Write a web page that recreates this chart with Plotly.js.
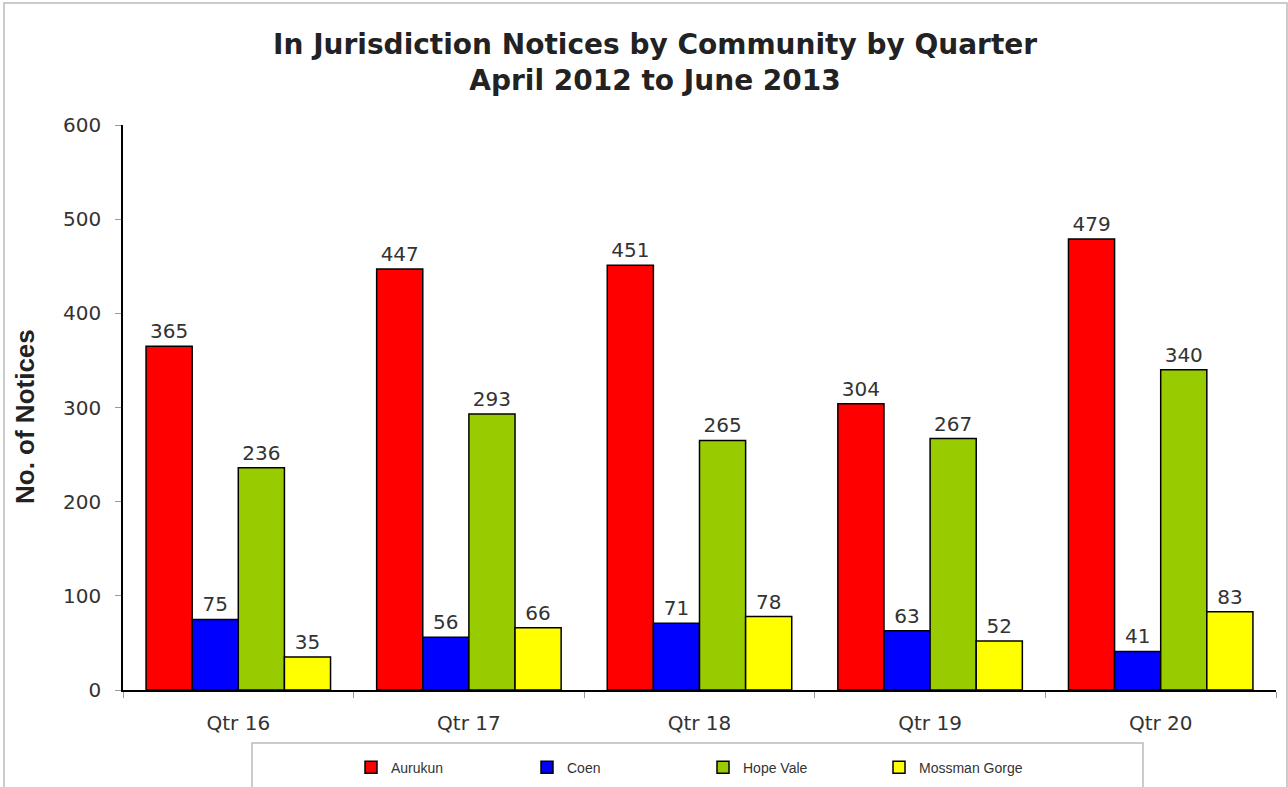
<!DOCTYPE html>
<html>
<head>
<meta charset="utf-8">
<script src="https://cdn.plot.ly/plotly-3.0.1.min.js"></script>
<style>html,body{margin:0;padding:0;background:#fff;}#chart{width:1288px;height:787px;}</style>
</head>
<body>
<div id="chart"></div>
<script>
const quarters = ["Qtr 16", "Qtr 17", "Qtr 18", "Qtr 19", "Qtr 20"];
const aurukun = [365, 447, 451, 304, 479];
const coen = [75, 56, 71, 63, 41];
const hopeVale = [236, 293, 265, 267, 340];
const mossmanGorge = [35, 66, 78, 52, 83];
const seriesNames = ["Aurukun", "Coen", "Hope Vale", "Mossman Gorge"];
const seriesColors = ["#FF0000", "#0000FF", "#99CC00", "#FFFF00"];
const seriesValues = [aurukun, coen, hopeVale, mossmanGorge];

const traces = seriesValues.map((vals, i) => ({
  type: "bar",
  name: seriesNames[i],
  x: quarters,
  y: vals,
  text: vals.map(String),
  textposition: "outside",
  cliponaxis: false,
  textfont: {family: "DejaVu Sans", size: 20, color: "#333333"},
  marker: {color: seriesColors[i], line: {color: "#000000", width: 1.5}},
  hoverinfo: "x+y+name"
}));

const layout = {
  width: 1288, height: 787,
  paper_bgcolor: "#ffffff", plot_bgcolor: "#ffffff",
  margin: {l: 123, r: 12, t: 125, b: 97, autoexpand: false},
  barmode: "group", bargap: 0.2, bargroupgap: 0,
  showlegend: true,
  title: {
    text: "In Jurisdiction Notices by Community by Quarter<br>April 2012 to June 2013",
    font: {family: "DejaVu Sans", size: 28, color: "#222222", weight: "bold"},
    xref: "container", x: 0.5086, xanchor: "center",
    yref: "container", y: 0.932, yanchor: "top"
  },
  xaxis: {
    type: "category", automargin: false,
    showline: true, linecolor: "#000000", linewidth: 1.5,
    ticks: "outside", tickson: "boundaries", ticklen: 6, tickcolor: "#999999",
    ticklabelstandoff: 14,
    tickfont: {family: "DejaVu Sans", size: 20, color: "#333333"},
    showgrid: false, zeroline: false
  },
  yaxis: {
    range: [0, 600], dtick: 100, tick0: 0, automargin: false,
    showline: true, linecolor: "#000000", linewidth: 1.5,
    ticks: "outside", ticklen: 6, tickcolor: "#999999",
    ticklabelstandoff: 10,
    tickfont: {family: "DejaVu Sans", size: 20, color: "#333333"},
    showgrid: false, zeroline: false
  },
  legend: {
    orientation: "h",
    x: (351 - 123) / 1153, xanchor: "left", xref: "paper",
    y: -0.109, yanchor: "top", yref: "paper",
    font: {family: "Liberation Sans", size: 14, color: "#333333"},
    entrywidth: 131, entrywidthmode: "pixels",
    itemwidth: 30,
    bgcolor: "rgba(0,0,0,0)"
  },
  annotations: [{
    text: "<b>No. of Notices</b>",
    xref: "paper", yref: "paper",
    x: (25 - 123) / 1153, y: (690 - 417) / 565,
    xanchor: "center", yanchor: "middle",
    textangle: -90, showarrow: false,
    font: {family: "Liberation Sans", size: 26, color: "#222222"}
  }],
  shapes: [
    {type: "rect", xref: "paper", yref: "paper",
     x0: (4 - 123) / 1153, x1: (1287 - 123) / 1153,
     y0: -0.3, y1: (690 - 3) / 565,
     line: {color: "#BBBBBB", width: 1.5}, fillcolor: "rgba(0,0,0,0)", layer: "below"},
    {type: "rect", xref: "paper", yref: "paper",
     x0: (252 - 123) / 1153, x1: (1143 - 123) / 1153,
     y0: -0.3, y1: (690 - 743) / 565,
     line: {color: "#BBBBBB", width: 1.5}, fillcolor: "rgba(0,0,0,0)", layer: "below"}
  ]
};

Plotly.newPlot("chart", traces, layout, {displayModeBar: false, responsive: false});
</script>
</body>
</html>
